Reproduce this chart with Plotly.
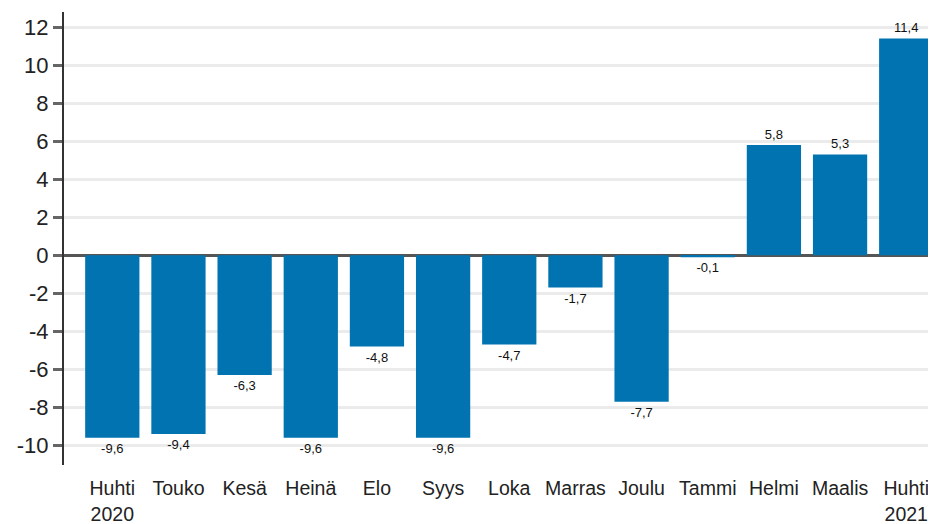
import plotly.graph_objects as go

categories = ["Huhti<br>2020", "Touko", "Kesä", "Heinä", "Elo", "Syys", "Loka",
              "Marras", "Joulu", "Tammi", "Helmi", "Maalis", "Huhti<br>2021"]
values = [-9.6, -9.4, -6.3, -9.6, -4.8, -9.6, -4.7, -1.7, -7.7, -0.1, 5.8, 5.3, 11.4]
y_ticks = [-10, -8, -6, -4, -2, 0, 2, 4, 6, 8, 10, 12]

labels = [f"{v:.1f}".replace(".", ",") for v in values]
y_ticktext = [str(v) for v in y_ticks]

fig = go.Figure(go.Bar(
    x=categories, y=values,
    text=labels, texttemplate="%{text}", textposition="outside",
    marker=dict(color="#0073b0", line=dict(width=0)),
    textfont=dict(family="Liberation Sans, Arial", size=13, color="#111111"),
    outsidetextfont=dict(family="Liberation Sans, Arial", size=13, color="#111111"),
    cliponaxis=False,
))

fig.update_layout(
    width=928, height=516,
    margin=dict(l=56, r=0, t=4, b=59),
    paper_bgcolor="white", plot_bgcolor="white",
    bargap=0.18,
    showlegend=False,
    font=dict(family="Liberation Sans, Arial", color="#222222"),
    xaxis=dict(
        automargin=False,
        range=[-0.73, 12.45],
        showgrid=False, showline=False, zeroline=False,
        ticks="outside", ticklen=6, tickcolor="rgba(0,0,0,0)",
        tickfont=dict(size=19.5, color="#222222"),
    ),
    yaxis=dict(
        automargin=False,
        range=[-11.03, 12.79],
        tickvals=y_ticks, ticktext=y_ticktext,
        showgrid=True, gridcolor="#ebebeb", gridwidth=3,
        zeroline=True, zerolinecolor="#555555", zerolinewidth=2.5,
        showline=True, linecolor="#333333", linewidth=2,
        ticks="outside", ticklen=9, tickwidth=2.5, tickcolor="#666666",
        tickfont=dict(size=22, color="#222222"),
    ),
)

fig.write_html("out.html")
